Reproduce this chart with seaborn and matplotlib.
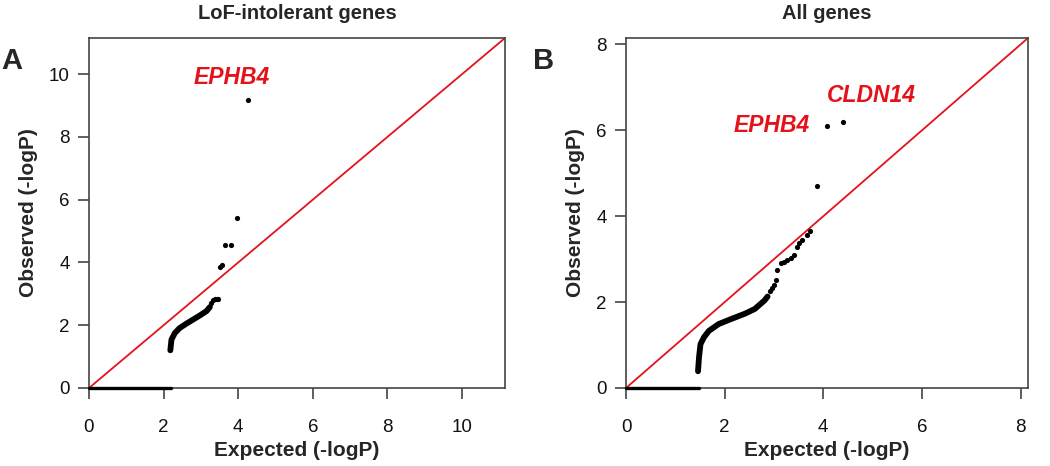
import numpy as np
import pandas as pd
import seaborn as sns
import matplotlib.pyplot as plt

# ---- data ----
# Panel A: LoF-intolerant genes
a_zero_x = [0.0, 2.21]
a_zero_y = [0.0, 0.0]
a_curve_x = [2.18, 2.21, 2.30, 2.43, 2.61, 2.79, 2.97, 3.15, 3.24]
a_curve_y = [1.20, 1.54, 1.75, 1.91, 2.05, 2.18, 2.31, 2.45, 2.58]
a_dots_x = [3.28, 3.33, 3.38, 3.42, 3.46, 3.50, 3.57, 3.65, 3.80, 3.98, 4.26]
a_dots_y = [2.71, 2.80, 2.82, 2.82, 2.82, 3.84, 3.92, 4.56, 4.56, 5.41, 9.18]
a_max = 11.15
a_ticks = [0, 2, 4, 6, 8, 10]

# Panel B: all genes
b_zero_x = [0.0, 1.48]
b_zero_y = [0.0, 0.0]
b_curve_x = [1.46, 1.48, 1.51, 1.58, 1.68, 1.88, 2.14, 2.41, 2.61, 2.81, 2.87]
b_curve_y = [0.39, 0.71, 1.02, 1.18, 1.33, 1.49, 1.61, 1.73, 1.84, 2.04, 2.13]
b_dots_x = [2.91, 2.97, 3.01, 3.04, 3.07, 3.14, 3.21, 3.27, 3.34, 3.41,
            3.47, 3.51, 3.57, 3.67, 3.74, 3.87, 4.07, 4.39]
b_dots_y = [2.27, 2.34, 2.39, 2.51, 2.74, 2.90, 2.94, 2.98, 3.02, 3.10,
            3.29, 3.37, 3.45, 3.57, 3.65, 4.71, 6.09, 6.20]
b_max = 8.15
b_ticks = [0, 2, 4, 6, 8]

titles = ["LoF-intolerant genes", "All genes"]
letters = ["A", "B"]
genes_a = [("EPHB4", 3.82, 9.89)]
genes_b = [("EPHB4", 2.95, 6.11), ("CLDN14", 4.97, 6.81)]

RED = "#e3121b"
AXIS = "#444444"

sns.set_style("ticks")
plt.rcParams["font.family"] = ["Liberation Sans", "DejaVu Sans"]

fig = plt.figure(figsize=(10.5, 4.66), dpi=100)
ax_a = fig.add_axes([89 / 1050, 78 / 466, 416 / 1050, 350 / 466])
ax_b = fig.add_axes([626 / 1050, 78 / 466, 402 / 1050, 350 / 466])


def draw_panel(ax, zero_x, zero_y, curve_x, curve_y, dots_x, dots_y,
               lim, ticks, title, genes):
    ax.plot([0, lim], [0, lim], color=RED, lw=1.3, zorder=1)
    sns.lineplot(x=zero_x, y=zero_y, ax=ax, color="black", lw=2.4,
                 sort=False, zorder=5, clip_on=False)
    sns.lineplot(x=curve_x, y=curve_y, ax=ax, color="black", lw=4.2,
                 sort=False, zorder=3, solid_capstyle="round")
    sns.scatterplot(x=dots_x, y=dots_y, ax=ax, color="black", s=14,
                    linewidth=0, zorder=4)
    for name, gx, gy in genes:
        ax.text(gx, gy, name, color=RED, fontsize=16.5, fontweight="bold",
                fontstyle="italic", ha="center", va="center")
    ax.set_xlim(0, lim)
    ax.set_ylim(0, lim)
    ax.set_xticks(ticks)
    ax.set_yticks(ticks)
    ax.set_xlabel("Expected (-logP)", fontsize=15, fontweight="bold",
                  labelpad=4)
    ax.set_ylabel("Observed (-logP)", fontsize=15, fontweight="bold",
                  labelpad=8)
    ax.set_title(title, fontsize=14.5, fontweight="bold", pad=14)
    ax.tick_params(axis="both", direction="out", length=8, width=1.2,
                   color=AXIS, labelsize=13.5, labelcolor="#111111")
    ax.tick_params(axis="x", pad=14)
    ax.tick_params(axis="y", pad=6)
    for sp in ax.spines.values():
        sp.set_visible(True)
        sp.set_color(AXIS)
        sp.set_linewidth(1.2)


draw_panel(ax_a, a_zero_x, a_zero_y, a_curve_x, a_curve_y, a_dots_x,
           a_dots_y, a_max, a_ticks, titles[0], genes_a)
draw_panel(ax_b, b_zero_x, b_zero_y, b_curve_x, b_curve_y, b_dots_x,
           b_dots_y, b_max, b_ticks, titles[1], genes_b)

fig.text(12 / 1050, 1 - 61 / 466, letters[0], fontsize=21,
         fontweight="bold", ha="center", va="center")
fig.text(544 / 1050, 1 - 61 / 466, letters[1], fontsize=21,
         fontweight="bold", ha="center", va="center")

plt.savefig("out.png", dpi=100)
plt.close()
